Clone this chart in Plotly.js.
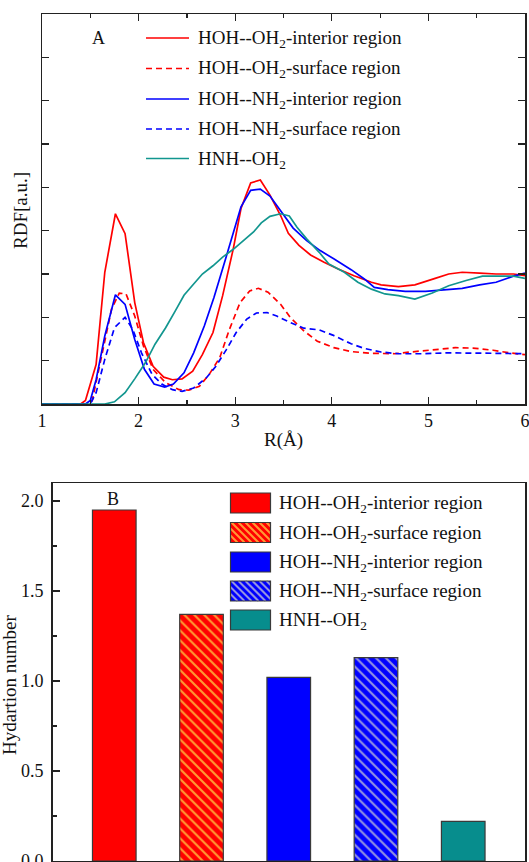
<!DOCTYPE html>
<html>
<head>
<meta charset="utf-8">
<script src="https://cdn.plot.ly/plotly-3.0.1.min.js"></script>
<style>html,body{margin:0;padding:0;background:#fff;}#chart{width:529px;height:862px;}</style>
</head>
<body>
<div id="chart"></div>
<script>
// ---------- Panel A: RDF curves ----------
const xOwInt = [1.0,1.4,1.45,1.56,1.65,1.76,1.86,1.96,2.05,2.15,2.26,2.35,2.45,2.56,2.66,2.77,2.87,2.98,3.06,3.16,3.26,3.36,3.47,3.55,3.66,3.78,3.92,4.06,4.23,4.41,4.51,4.69,4.86,4.97,5.07,5.21,5.35,5.53,5.70,5.88,6.0];
const yOwInt = [0,0,0.08,0.91,3.04,4.39,3.93,2.34,1.42,0.87,0.62,0.56,0.58,0.76,1.14,1.65,2.50,3.58,4.51,5.10,5.17,4.82,4.35,3.94,3.66,3.44,3.27,3.12,2.96,2.81,2.75,2.71,2.75,2.82,2.90,3.00,3.04,3.02,3.00,3.00,2.96];

const xOwSurf = [1.0,1.48,1.52,1.61,1.72,1.80,1.87,1.96,2.05,2.15,2.28,2.42,2.52,2.63,2.73,2.84,2.94,3.05,3.15,3.24,3.34,3.47,3.57,3.71,3.85,4.02,4.20,4.41,4.65,4.86,5.07,5.28,5.46,5.67,5.84,6.0];
const yOwSurf = [0,0,0.08,1.03,2.19,2.56,2.54,2.03,1.34,0.80,0.49,0.33,0.32,0.41,0.68,1.07,1.72,2.34,2.61,2.67,2.58,2.30,2.00,1.69,1.45,1.30,1.21,1.17,1.16,1.21,1.26,1.30,1.29,1.24,1.18,1.14];

const xNhInt = [1.0,1.45,1.5,1.56,1.65,1.76,1.86,1.96,2.06,2.16,2.27,2.36,2.47,2.57,2.68,2.78,2.89,2.98,3.06,3.16,3.26,3.36,3.47,3.60,3.74,3.88,4.02,4.20,4.34,4.44,4.58,4.76,4.97,5.18,5.35,5.53,5.70,5.88,6.0];
const yNhInt = [0,0,0.08,0.56,1.57,2.52,2.30,1.49,0.80,0.46,0.39,0.46,0.72,1.18,1.80,2.46,3.27,3.93,4.55,4.93,4.96,4.80,4.47,4.06,3.77,3.54,3.35,3.10,2.88,2.69,2.64,2.60,2.60,2.64,2.67,2.75,2.81,2.95,3.02];

const xNhSurf = [1.0,1.5,1.56,1.65,1.75,1.86,1.94,2.03,2.14,2.24,2.35,2.45,2.57,2.70,2.80,2.91,3.01,3.12,3.22,3.33,3.43,3.57,3.71,3.87,4.01,4.20,4.34,4.51,4.69,4.93,5.18,5.46,5.70,6.0];
const yNhSurf = [0,0,0.26,1.03,1.76,2.00,1.72,1.18,0.68,0.46,0.33,0.29,0.37,0.60,0.87,1.26,1.65,1.96,2.10,2.11,2.03,1.88,1.75,1.71,1.59,1.39,1.28,1.20,1.16,1.16,1.18,1.18,1.17,1.16];

const xHnh = [1.0,1.65,1.75,1.86,1.96,2.07,2.17,2.28,2.38,2.47,2.57,2.66,2.77,2.87,2.98,3.08,3.19,3.27,3.36,3.47,3.56,3.64,3.74,3.87,3.97,4.13,4.27,4.41,4.55,4.69,4.86,5.04,5.21,5.39,5.56,5.74,5.88,6.0];
const yHnh = [0,0,0.05,0.26,0.58,0.95,1.38,1.76,2.15,2.51,2.77,3.00,3.19,3.39,3.57,3.76,3.97,4.18,4.33,4.39,4.34,4.08,3.81,3.50,3.23,3.04,2.81,2.65,2.54,2.50,2.42,2.56,2.73,2.85,2.95,2.95,2.95,2.90];

const seriesNames = [
  "HOH--OH<sub>2</sub>-interior region",
  "HOH--OH<sub>2</sub>-surface region",
  "HOH--NH<sub>2</sub>-interior region",
  "HOH--NH<sub>2</sub>-surface region",
  "HNH--OH<sub>2</sub>"
];

// ---------- Panel B: hydration numbers ----------
const barCategories = ["OH2-interior", "OH2-surface", "NH2-interior", "NH2-surface", "HNH-OH2"];
const hydrationNumbers = [1.95, 1.37, 1.02, 1.13, 0.22];

// ---------- styles ----------
const RED = "#ff0000", BLUE = "#0000ff", TEAL = "#12968f", TEALBAR = "#078d8d";
const HATCH_RED = "#ff9a33", HATCH_BLUE = "#9494e0";
const FONT = "Liberation Serif, Times New Roman, serif";
const FS = 19;
const W = 529, H = 862;
const px = v => v / W;
const py = v => 1 - v / H;

const lineStyles = [
  {color: RED, dash: "solid"},
  {color: RED, dash: "6px,4px"},
  {color: BLUE, dash: "solid"},
  {color: BLUE, dash: "6px,4px"},
  {color: TEAL, dash: "solid"}
];
const xs = [xOwInt, xOwSurf, xNhInt, xNhSurf, xHnh];
const ys = [yOwInt, yOwSurf, yNhInt, yNhSurf, yHnh];

const traces = xs.map((x, i) => ({
  type: "scatter", mode: "lines", x: x, y: ys[i],
  name: seriesNames[i], showlegend: false,
  line: {color: lineStyles[i].color, dash: lineStyles[i].dash, width: 1.7},
  xaxis: "x", yaxis: "y", hoverinfo: "skip"
}));

const barFill = [RED, RED, BLUE, BLUE, TEALBAR];
const barHatch = [null, HATCH_RED, null, HATCH_BLUE, null];

barCategories.forEach((cat, i) => {
  const marker = {color: barFill[i], line: {color: "#3a3a3a", width: 1.2}};
  if (barHatch[i]) {
    marker.pattern = {shape: "\\", bgcolor: barFill[i], fgcolor: barHatch[i], fgopacity: 1,
      size: 7, solidity: 0.3, fillmode: "overlay"};
  }
  traces.push({
    type: "bar", x: [cat], y: [hydrationNumbers[i]], width: 0.5,
    name: seriesNames[i], xaxis: "x2", yaxis: "y2", showlegend: false, hoverinfo: "skip",
    marker: marker
  });
});

// ---------- manual legends ----------
const shapes = [];
const annotations = [];
const txtFont = {family: FONT, size: FS, color: "#111"};

// Panel A legend
const legARows = [38, 68.5, 99, 129, 158.5];
legARows.forEach((ry, i) => {
  shapes.push({type: "line", xref: "paper", yref: "paper",
    x0: px(146), x1: px(189), y0: py(ry), y1: py(ry),
    line: {color: lineStyles[i].color, width: 1.7, dash: lineStyles[i].dash}});
  annotations.push({xref: "paper", yref: "paper", x: px(196), y: py(ry + 1), xanchor: "left", yanchor: "middle",
    text: seriesNames[i], showarrow: false, font: txtFont});
});

// Panel B legend
const legBRows = [503, 532.5, 562, 591, 620];
const bx0 = 230.5, bx1 = 270.5, bh = 10;
legBRows.forEach((ry, i) => {
  const T = ry - bh, B = ry + bh;
  shapes.push({type: "rect", xref: "paper", yref: "paper",
    x0: px(bx0), x1: px(bx1), y0: py(B), y1: py(T),
    fillcolor: barFill[i], line: {width: 0}});
  if (barHatch[i]) {
    for (let d = bx0 - B; d <= bx1 - T; d += 7) {
      const ya = Math.max(T, bx0 - d), yb = Math.min(B, bx1 - d);
      if (yb - ya > 0.5) {
        shapes.push({type: "line", xref: "paper", yref: "paper",
          x0: px(ya + d), y0: py(ya), x1: px(yb + d), y1: py(yb),
          line: {color: barHatch[i], width: 2}});
      }
    }
  }
  shapes.push({type: "rect", xref: "paper", yref: "paper",
    x0: px(bx0), x1: px(bx1), y0: py(B), y1: py(T),
    fillcolor: "rgba(0,0,0,0)", line: {color: "#3a3a3a", width: 1.2}});
  annotations.push({xref: "paper", yref: "paper", x: px(277), y: py(ry + 1), xanchor: "left", yanchor: "middle",
    text: seriesNames[i], showarrow: false, font: txtFont});
});

// Panel labels and axis titles
const centered = {xref: "paper", yref: "paper", xanchor: "center", yanchor: "middle", showarrow: false};
annotations.push(Object.assign({}, centered, {x: px(98), y: py(38), text: "A",
  font: {family: FONT, size: 18, color: "#111"}}));
annotations.push(Object.assign({}, centered, {x: px(113), y: py(499), text: "B",
  font: {family: FONT, size: 18, color: "#111"}}));
annotations.push(Object.assign({}, centered, {x: px(20), y: py(211), text: "RDF[a.u.]", textangle: -90,
  font: txtFont}));
annotations.push(Object.assign({}, centered, {x: px(9), y: py(685), text: "Hydartion number", textangle: -90,
  font: txtFont}));

const axisLine = {showline: true, linecolor: "#222", linewidth: 1.5, zeroline: false, showgrid: false};

const layout = {
  width: W, height: H, autosize: false,
  margin: {l: 0, r: 0, t: 0, b: 0, pad: 0},
  paper_bgcolor: "#fff", plot_bgcolor: "#fff",
  font: {family: FONT, size: FS, color: "#111"},
  showlegend: false,
  barmode: "overlay",
  xaxis: Object.assign({}, axisLine, {
    domain: [px(42), px(525)], range: [1, 6], dtick: 1, tick0: 1,
    ticks: "inside", ticklen: 7, tickwidth: 1.3, tickcolor: "#222", mirror: "ticks",
    minor: {dtick: 0.5, ticks: "inside", ticklen: 4, tickwidth: 1.2, tickcolor: "#222"},
    tickfont: {family: FONT, size: 18, color: "#111"}, ticklabeloverflow: "allow",
    title: {text: "R(Å)", font: txtFont, standoff: 2},
    anchor: "y"
  }),
  yaxis: Object.assign({}, axisLine, {
    domain: [py(404), py(14)], range: [0, 9], dtick: 1,
    ticks: "inside", ticklen: 7, tickwidth: 1.3, tickcolor: "#222", mirror: "ticks",
    showticklabels: false, anchor: "x"
  }),
  xaxis2: Object.assign({}, axisLine, {
    domain: [px(52.5), px(525)], range: [-0.708, 4.708], type: "category",
    ticks: "", showticklabels: false, mirror: true, anchor: "y2"
  }),
  yaxis2: Object.assign({}, axisLine, {
    domain: [py(861), py(483)], range: [0, 2.1], dtick: 0.5, tickformat: ".1f",
    ticks: "inside", ticklen: 7, tickwidth: 1.3, tickcolor: "#222", mirror: true,
    minor: {dtick: 0.25, ticks: "inside", ticklen: 4, tickwidth: 1.2, tickcolor: "#222"},
    tickfont: {family: FONT, size: 18, color: "#111"}, ticklabeloverflow: "allow",
    ticklabelstandoff: 4, anchor: "x2"
  }),
  shapes: shapes,
  annotations: annotations
};

Plotly.newPlot("chart", traces, layout, {staticPlot: true, displayModeBar: false});
</script>
</body>
</html>
